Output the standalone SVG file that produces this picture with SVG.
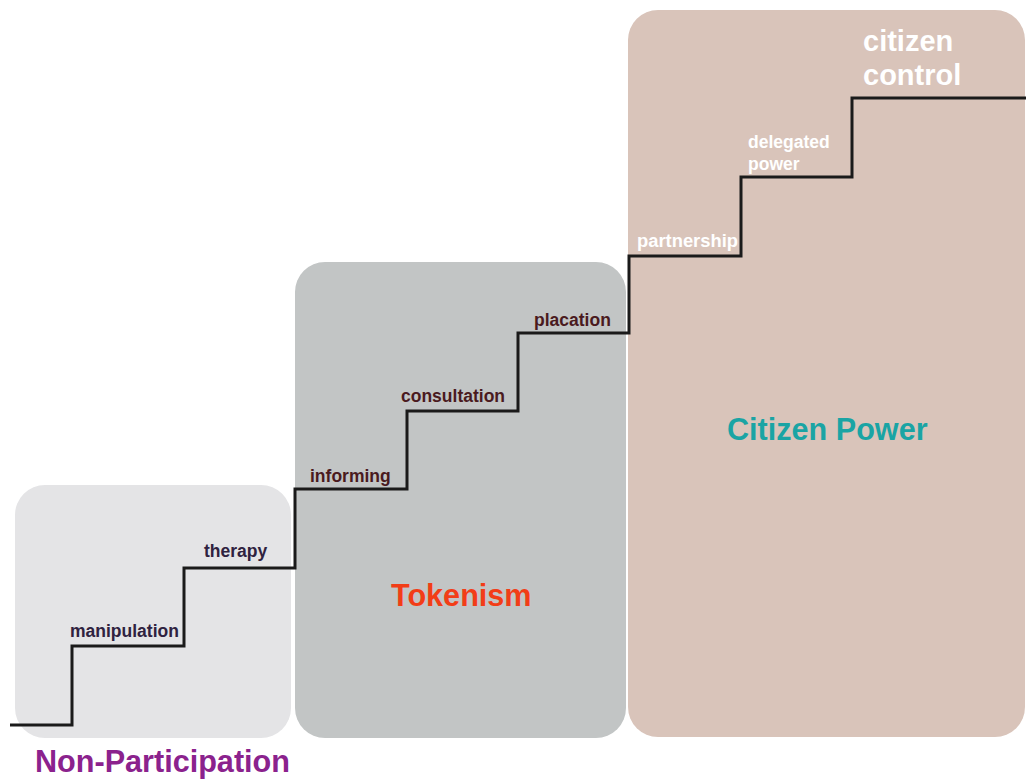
<svg xmlns="http://www.w3.org/2000/svg" width="1026" height="781" viewBox="0 0 1026 781">
<style>
text{font-family:"Liberation Sans",Arial,sans-serif;font-weight:bold}
.rung{font-size:17.5px}
.np{fill:#2f2240}
.tk{fill:#4a1a1e}
.cp{fill:#ffffff}
.title{font-size:30.6px}
.stair{fill:none;stroke:#1a1a1a;stroke-width:3;stroke-linejoin:miter}
</style>
<rect width="1026" height="781" fill="#ffffff"/>
<g id="non-participation">
<rect x="15" y="485" width="276" height="253" rx="30" fill="#e4e4e6"/>
<text class="rung np" x="70" y="637">manipulation</text>
<text class="rung np" x="204" y="557">therapy</text>
<text class="title" x="35" y="772" fill="#8b228d">Non-Participation</text>
</g>
<g id="tokenism">
<rect x="295" y="262" width="331" height="476" rx="30" fill="#c2c5c5"/>
<text class="rung tk" x="310" y="482">informing</text>
<text class="rung tk" x="401" y="402">consultation</text>
<text class="rung tk" x="534" y="326">placation</text>
<text class="title" x="391" y="606" fill="#f23d17">Tokenism</text>
</g>
<g id="citizen-power">
<rect x="628" y="10" width="397" height="727" rx="30" fill="#d9c4ba"/>
<text class="rung cp" x="637" y="247" textLength="101" lengthAdjust="spacingAndGlyphs">partnership</text>
<text class="rung cp" x="748" y="148">delegated</text>
<text class="rung cp" x="748" y="170">power</text>
<text class="cp" x="863" y="51" font-size="29">citizen</text>
<text class="cp" x="863" y="85" font-size="29">control</text>
<text class="title" x="727" y="440" fill="#1aa4a4">Citizen Power</text>
</g>
<g id="connectors">
<path class="stair" d="M10 725 H72 V646 H184 V568 H295 V489 H407 V411 H518 V333 H629 V256 H741 V177 H852 V98 H1026"/>
</g>
</svg>
